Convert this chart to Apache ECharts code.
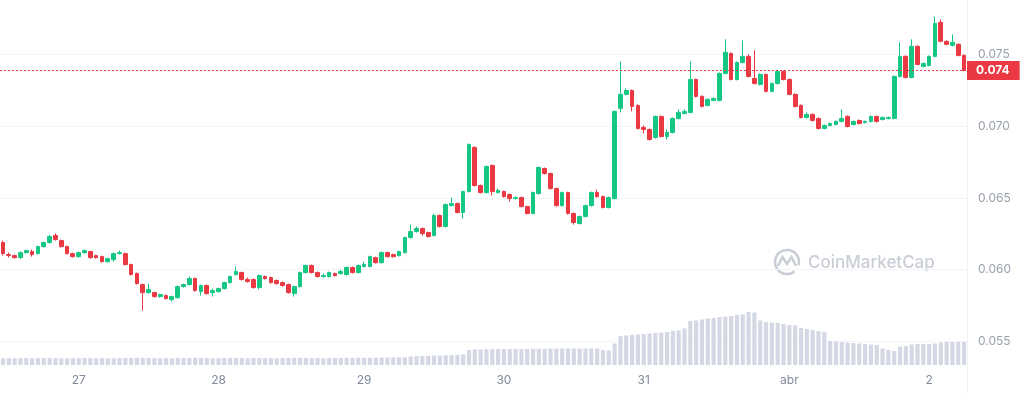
<!DOCTYPE html>
<html>
<head>
<meta charset="utf-8">
<script src="https://cdn.jsdelivr.net/npm/echarts@6/dist/echarts.min.js"></script>
<style>
html,body{margin:0;padding:0;background:#fff;overflow:hidden;width:1021px;height:393px;}
#chart{position:absolute;left:0;top:-17px;width:1021px;height:430px;}
</style>
</head>
<body>
<div id="chart"></div>
<script>
// Hourly candles (price in USD)
const opens = [
0.06189,0.06105,0.06098,0.06084,0.06119,0.06126,0.06112,0.06161,0.06189,0.06238,
0.06203,0.06161,0.06112,0.06091,0.06119,0.06126,0.06098,0.06091,0.06056,0.06070,
0.06112,0.06112,0.06036,0.05973,0.05896,0.05840,0.05840,0.05812,0.05819,0.05791,
0.05805,0.05882,0.05896,0.05938,0.05847,0.05889,0.05840,0.05847,0.05868,0.05910,
0.05966,0.05980,0.05931,0.05931,0.05875,0.05952,0.05945,0.05924,0.05910,0.05896,
0.05833,0.05882,0.05980,0.06029,0.05980,0.05952,0.05952,0.05973,0.05973,0.05966,
0.06015,0.05980,0.06022,0.06022,0.06084,0.06049,0.06119,0.06105,0.06098,0.06119,
0.06224,0.06266,0.06287,0.06259,0.06238,0.06378,0.06301,0.06447,0.06461,0.06399,
0.06545,0.06853,0.06587,0.06538,0.06727,0.06538,0.06545,0.06524,0.06496,0.06503,
0.06440,0.06392,0.06531,0.06706,0.06671,0.06566,0.06447,0.06538,0.06392,0.06322,
0.06371,0.06447,0.06538,0.06510,0.06434,0.06496,0.07125,0.07223,0.07250,0.07146,
0.06992,0.06978,0.06922,0.07069,0.06929,0.06957,0.07055,0.07090,0.07097,0.07327,
0.07209,0.07146,0.07181,0.07181,0.07369,0.07509,0.07327,0.07446,0.07488,0.07334,
0.07292,0.07362,0.07244,0.07299,0.07383,0.07327,0.07223,0.07146,0.07062,0.07083,
0.07055,0.06985,0.07006,0.07013,0.07034,0.07069,0.07013,0.07041,0.07027,0.07034,
0.07069,0.07048,0.07055,0.07055,0.07348,0.07488,0.07341,0.07558,0.07418,0.07425,
0.07488,0.07725,0.07593,0.07565,0.07572,0.07495
];
const closes = [
0.06112,0.06098,0.06084,0.06119,0.06133,0.06105,0.06161,0.06189,0.06231,0.06210,
0.06161,0.06112,0.06091,0.06119,0.06133,0.06084,0.06084,0.06056,0.06077,0.06112,
0.06119,0.06036,0.05966,0.05903,0.05840,0.05861,0.05812,0.05826,0.05798,0.05812,
0.05882,0.05896,0.05938,0.05854,0.05889,0.05833,0.05854,0.05868,0.05910,0.05952,
0.05987,0.05931,0.05917,0.05875,0.05959,0.05938,0.05910,0.05903,0.05889,0.05840,
0.05882,0.05980,0.06029,0.05980,0.05952,0.05959,0.05980,0.05959,0.05987,0.06015,
0.05980,0.06029,0.06036,0.06091,0.06049,0.06119,0.06091,0.06091,0.06126,0.06224,
0.06266,0.06287,0.06252,0.06231,0.06378,0.06301,0.06454,0.06461,0.06399,0.06545,
0.06874,0.06587,0.06538,0.06720,0.06545,0.06552,0.06510,0.06496,0.06503,0.06440,
0.06392,0.06538,0.06713,0.06671,0.06566,0.06447,0.06538,0.06392,0.06329,0.06371,
0.06447,0.06538,0.06510,0.06434,0.06503,0.07104,0.07223,0.07250,0.07139,0.06985,
0.06978,0.06908,0.07069,0.06929,0.06957,0.07055,0.07097,0.07104,0.07327,0.07209,
0.07139,0.07188,0.07195,0.07369,0.07516,0.07327,0.07446,0.07488,0.07348,0.07299,
0.07362,0.07244,0.07299,0.07383,0.07327,0.07223,0.07139,0.07062,0.07083,0.07041,
0.06985,0.07006,0.07020,0.07034,0.07055,0.06999,0.07034,0.07020,0.07034,0.07069,
0.07034,0.07062,0.07062,0.07348,0.07488,0.07341,0.07558,0.07432,0.07439,0.07488,
0.07718,0.07593,0.07572,0.07586,0.07495,0.07390
];
const lows = [
0.06098,0.06084,0.06077,0.06077,0.06112,0.06091,0.06105,0.06154,0.06182,0.06203,
0.06154,0.06105,0.06084,0.06084,0.06112,0.06077,0.06077,0.06049,0.06049,0.06056,
0.06105,0.06029,0.05959,0.05896,0.05714,0.05833,0.05805,0.05805,0.05791,0.05777,
0.05798,0.05875,0.05889,0.05847,0.05819,0.05826,0.05812,0.05840,0.05861,0.05903,
0.05959,0.05924,0.05910,0.05868,0.05861,0.05931,0.05903,0.05896,0.05882,0.05833,
0.05812,0.05875,0.05973,0.05973,0.05945,0.05945,0.05945,0.05952,0.05966,0.05959,
0.05973,0.05973,0.06015,0.06015,0.06042,0.06042,0.06084,0.06084,0.06091,0.06112,
0.06217,0.06259,0.06238,0.06224,0.06231,0.06294,0.06294,0.06440,0.06392,0.06357,
0.06538,0.06580,0.06531,0.06531,0.06517,0.06531,0.06503,0.06475,0.06489,0.06434,
0.06385,0.06385,0.06524,0.06664,0.06559,0.06440,0.06440,0.06385,0.06315,0.06315,
0.06364,0.06440,0.06503,0.06427,0.06427,0.06489,0.07097,0.07216,0.07104,0.06978,
0.06950,0.06901,0.06915,0.06922,0.06908,0.06950,0.07048,0.07083,0.07090,0.07202,
0.07132,0.07139,0.07174,0.07174,0.07362,0.07320,0.07320,0.07439,0.07341,0.07292,
0.07285,0.07237,0.07237,0.07292,0.07320,0.07216,0.07132,0.07055,0.07055,0.07034,
0.06978,0.06978,0.06999,0.07006,0.07027,0.06992,0.07006,0.07013,0.07020,0.07027,
0.07027,0.07041,0.07048,0.07048,0.07341,0.07334,0.07334,0.07425,0.07411,0.07418,
0.07481,0.07586,0.07565,0.07558,0.07488,0.07383
];
const highs = [
0.06203,0.06119,0.06105,0.06126,0.06140,0.06140,0.06168,0.06196,0.06245,0.06252,
0.06210,0.06168,0.06119,0.06126,0.06140,0.06133,0.06105,0.06098,0.06084,0.06119,
0.06133,0.06119,0.06042,0.05980,0.05903,0.05903,0.05847,0.05833,0.05826,0.05819,
0.05889,0.05903,0.05952,0.05945,0.05896,0.05896,0.05868,0.05875,0.05917,0.05959,
0.06022,0.05987,0.05945,0.05938,0.05966,0.05959,0.05952,0.05931,0.05917,0.05903,
0.05889,0.05987,0.06036,0.06036,0.05987,0.05973,0.05987,0.05980,0.06001,0.06022,
0.06022,0.06036,0.06056,0.06098,0.06091,0.06126,0.06126,0.06112,0.06133,0.06231,
0.06315,0.06301,0.06294,0.06266,0.06392,0.06385,0.06461,0.06503,0.06468,0.06552,
0.06880,0.06860,0.06594,0.06727,0.06734,0.06566,0.06552,0.06531,0.06510,0.06510,
0.06447,0.06545,0.06720,0.06713,0.06678,0.06573,0.06545,0.06545,0.06399,0.06378,
0.06454,0.06545,0.06559,0.06517,0.06510,0.07111,0.07453,0.07264,0.07257,0.07153,
0.07006,0.06985,0.07076,0.07076,0.06978,0.07062,0.07118,0.07118,0.07453,0.07334,
0.07216,0.07195,0.07202,0.07376,0.07607,0.07516,0.07453,0.07600,0.07502,0.07530,
0.07369,0.07369,0.07306,0.07390,0.07390,0.07334,0.07230,0.07153,0.07097,0.07090,
0.07062,0.07013,0.07027,0.07041,0.07118,0.07076,0.07041,0.07048,0.07041,0.07076,
0.07076,0.07069,0.07069,0.07355,0.07586,0.07495,0.07607,0.07565,0.07446,0.07495,
0.07767,0.07746,0.07600,0.07642,0.07579,0.07502
];
// Hourly volume (millions, approx.)
const volumes = [
68,68,66,68,70,68,68,70,70,68,68,66,68,68,70,68,68,68,66,68,
68,70,70,72,72,70,68,68,68,68,70,70,70,72,70,70,68,68,70,70,
70,70,68,70,70,70,68,68,70,70,72,72,70,70,70,68,70,70,70,72,
72,72,72,72,72,74,75,76,76,78,85,88,90,92,95,95,98,100,100,105,
150,155,155,158,158,160,160,160,160,160,162,162,162,162,165,165,165,165,165,165,
165,165,165,150,145,215,290,295,300,305,310,315,320,325,330,340,345,365,440,445,
455,465,470,480,485,490,500,505,530,525,445,430,425,420,410,400,395,370,360,350,
340,330,240,235,230,225,220,215,210,205,200,165,150,140,185,190,205,210,210,210,
215,225,230,230,230,230
];
const tickLabels = ['27','28','29','30','31','abr','2'];
const tickIndex  = [13, 37, 62, 86, 110, 135, 159];
const priceTicks = [0.055, 0.060, 0.065, 0.070, 0.075];

const N = opens.length;
const categories = new Array(N).fill('');
tickIndex.forEach((k,i)=>{ categories[k] = tickLabels[i]; });
const candles = opens.map((o,i)=>[o, closes[i], lows[i], highs[i]]);
const lastClose = closes[N-1];

const GREEN = '#16c784', RED = '#ea3943', WM = '#c9ced6';
const OFF = 17; // chart container is shifted up by this many px
const chart = echarts.init(document.getElementById('chart'), null, {renderer:'canvas'});
chart.setOption({
  animation: false,
  backgroundColor: '#fff',
  textStyle: {fontFamily: 'Inter, "Noto Sans", sans-serif'},
  grid: [
    {left: 0, right: 54, top: 0, bottom: 0},
    {left: 0, right: 54, top: 305 + OFF, bottom: 48}
  ],
  xAxis: [
    {type: 'category', gridIndex: 0, data: categories, show: false},
    {type: 'category', gridIndex: 1, data: categories,
     axisLine: {show: false}, axisTick: {show: false}, splitLine: {show: false},
     axisLabel: {interval: 0, color: '#808a9d', fontSize: 12, margin: 9}}
  ],
  yAxis: [
    {type: 'value', gridIndex: 0, position: 'right', min: 0.050, max: 0.080, interval: 0.005,
     axisLine: {show: true, lineStyle: {color: '#f1f2f4'}},
     axisTick: {show: false},
     axisLabel: {color: '#9aa1ad', fontSize: 12, margin: 11,
       formatter: v => priceTicks.some(t => Math.abs(t - v) < 1e-9) ? v.toFixed(3) : ''},
     splitLine: {lineStyle: {color: '#f3f4f6'}}},
    {type: 'value', gridIndex: 1, min: 0, max: 600, show: false}
  ],
  graphic: [
    {type: 'arc', shape: {cx: 787, cy: 262 + OFF, r: 12, startAngle: 0.9, endAngle: 0.9 + Math.PI * 1.8}, style: {fill: 'none', stroke: WM, lineWidth: 2.5}, z: 0},
    {type: 'polyline', shape: {points: [[778, 266 + OFF], [782.5, 257 + OFF], [787, 264 + OFF], [791.5, 257 + OFF], [796, 266 + OFF]]}, style: {fill: 'none', stroke: WM, lineWidth: 2.5}, z: 0},
    {type: 'text', x: 808, y: 263 + OFF, style: {text: 'CoinMarketCap', font: '500 17px Inter', fill: WM, verticalAlign: 'middle'}, z: 0}
  ],
  series: [
    {type: 'bar', xAxisIndex: 1, yAxisIndex: 1, data: volumes, barWidth: '72%',
     itemStyle: {color: '#d3d8e4'}, silent: true},
    {type: 'candlestick', xAxisIndex: 0, yAxisIndex: 0, data: candles, barWidth: 4.2,
     itemStyle: {color: GREEN, color0: RED, borderColor: GREEN, borderColor0: RED, borderWidth: 1},
     markLine: {symbol: 'none', silent: true, animation: false, precision: 5,
       data: [{yAxis: lastClose}],
       lineStyle: {color: RED, type: [2, 2], width: 1},
       label: {position: 'end', distance: 0, formatter: p => Number(p.value).toFixed(3),
         color: '#fff', backgroundColor: RED, padding: [4, 10, 3, 9], fontSize: 12, fontWeight: 'bold'}}}
  ]
});
</script>
</body>
</html>
